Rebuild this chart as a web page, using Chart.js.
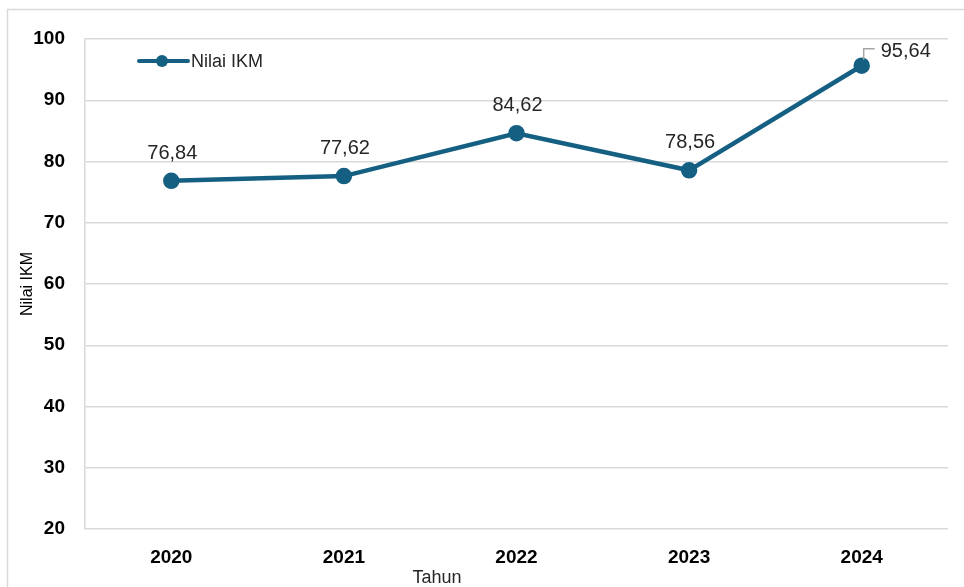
<!DOCTYPE html>
<html>
<head>
<meta charset="utf-8">
<script src="https://cdn.jsdelivr.net/npm/chart.js@4.4.1/dist/chart.umd.min.js"></script>
<style>
html,body{margin:0;padding:0;background:#fff;}
#wrap{position:relative;width:964px;height:587px;}
</style>
</head>
<body>
<div id="wrap"><canvas id="c"></canvas></div>
<script>
const years = ['2020', '2021', '2022', '2023', '2024'];
const nilaiIKM = [76.84, 77.62, 84.62, 78.56, 95.64];
const yTicks = [20, 30, 40, 50, 60, 70, 80, 90, 100];
const seriesName = 'Nilai IKM';
const xTitle = 'Tahun';
const yTitle = 'Nilai IKM';

const LINE = '#156082';
const GRID = '#d9d9d9';
const FONT = '"Liberation Sans", Arial, sans-serif';

const fmt = v => v.toFixed(2).replace('.', ',');

const frame = {
  id: 'frame',
  beforeDraw(chart) {
    const ctx = chart.ctx;
    ctx.save();
    ctx.strokeStyle = GRID;
    ctx.lineWidth = 1.5;
    ctx.strokeRect(7.5, 9.5, 1000, 700);
    ctx.restore();
  }
};

const labels = {
  id: 'labels',
  afterDatasetsDraw(chart) {
    const ctx = chart.ctx;
    const meta = chart.getDatasetMeta(0);
    const data = chart.data.datasets[0].data;
    ctx.save();
    ctx.font = '20px ' + FONT;
    ctx.fillStyle = '#262626';
    meta.data.forEach((pt, i) => {
      const txt = fmt(data[i]);
      if (i === data.length - 1) {
        ctx.strokeStyle = '#a6a6a6';
        ctx.lineWidth = 1.5;
        ctx.beginPath();
        ctx.moveTo(pt.x + 2, pt.y - 6);
        ctx.lineTo(pt.x + 2, pt.y - 17);
        ctx.lineTo(pt.x + 13, pt.y - 17);
        ctx.stroke();
        ctx.textAlign = 'left';
        ctx.textBaseline = 'alphabetic';
        ctx.fillText(txt, pt.x + 19, pt.y - 9);
      } else {
        ctx.textAlign = 'center';
        ctx.textBaseline = 'alphabetic';
        ctx.fillText(txt, pt.x + 1, pt.y - 22);
      }
    });
    ctx.restore();
  }
};

const extras = {
  id: 'extras',
  afterDraw(chart) {
    const ctx = chart.ctx;
    ctx.save();
    const y = 61;
    ctx.strokeStyle = LINE;
    ctx.lineWidth = 4;
    ctx.lineCap = 'round';
    ctx.beginPath();
    ctx.moveTo(139, y);
    ctx.lineTo(188, y);
    ctx.stroke();
    ctx.fillStyle = LINE;
    ctx.beginPath();
    ctx.arc(162, y, 6, 0, Math.PI * 2);
    ctx.fill();
    ctx.fillStyle = '#262626';
    ctx.font = '18px ' + FONT;
    ctx.textAlign = 'left';
    ctx.textBaseline = 'middle';
    ctx.fillText(chart.data.datasets[0].label, 191, y + 1);
    // x axis title (offset left of centre as in the original)
    ctx.font = '18px ' + FONT;
    ctx.textAlign = 'center';
    ctx.textBaseline = 'middle';
    ctx.fillText(xTitle, 437, 578);
    ctx.restore();
  }
};

new Chart(document.getElementById('c'), {
  type: 'line',
  data: {
    labels: years,
    datasets: [{
      label: seriesName,
      data: nilaiIKM,
      borderColor: LINE,
      backgroundColor: LINE,
      borderWidth: 4.5,
      pointRadius: 6,
      pointHoverRadius: 6,
      pointBackgroundColor: LINE,
      pointBorderColor: LINE,
      tension: 0,
      clip: false
    }]
  },
  options: {
    responsive: true,
    maintainAspectRatio: false,
    animation: false,
    layout: { padding: { left: 18, right: 16, top: 39, bottom: 0 } },
    plugins: { legend: { display: false }, tooltip: { enabled: false } },
    scales: {
      x: {
        offset: true,
        grid: { display: false, drawTicks: false },
        border: { display: false },
        ticks: {
          color: '#000',
          font: { family: FONT, size: 19, weight: 'bold' },
          padding: 17
        },
        title: { display: false, text: xTitle },
        afterFit(axis) { axis.height = 58; }
      },
      y: {
        min: 20, max: 100,
        afterBuildTicks(axis) { axis.ticks = yTicks.map(v => ({ value: v })); },
        grid: { color: GRID, lineWidth: 1.5, drawTicks: false },
        border: { display: true, color: GRID, width: 1.5 },
        ticks: {
          color: '#000',
          font: { family: FONT, size: 19, weight: 'bold' },
          padding: 20
        },
        title: {
          display: true, text: yTitle, color: '#000',
          font: { family: FONT, size: 16 },
          padding: { top: 0, bottom: 0, y: 0 }
        },
        afterFit(axis) { axis.width = 67; }
      }
    }
  },
  plugins: [frame, labels, extras]
});
</script>
</body>
</html>
